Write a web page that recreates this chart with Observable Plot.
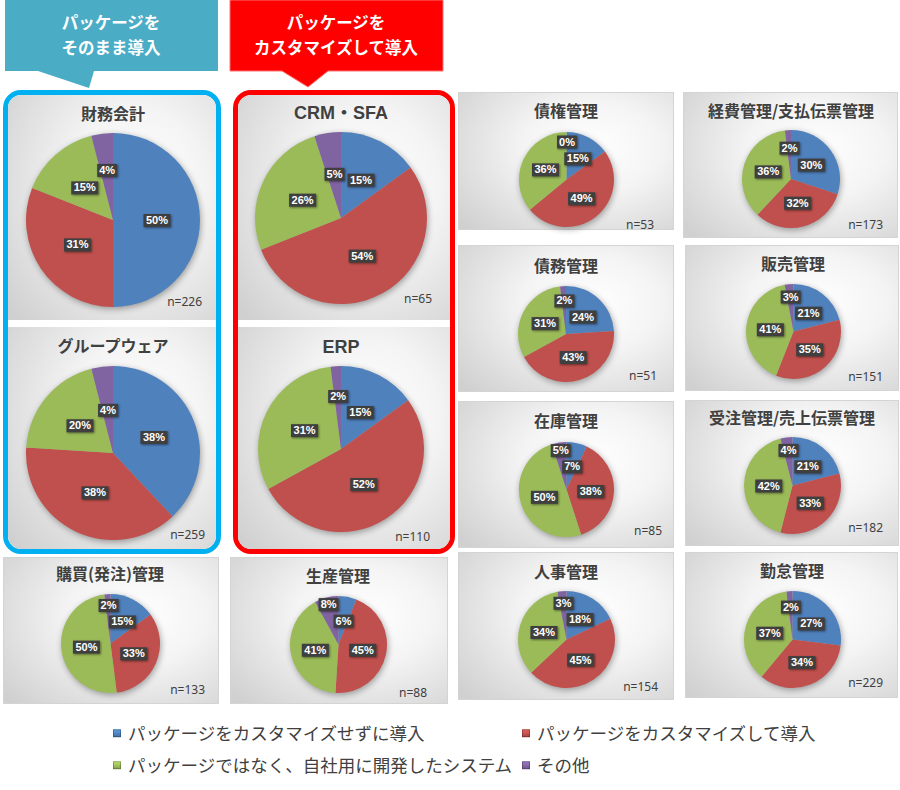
<!DOCTYPE html>
<html><head><meta charset="utf-8">
<script src="https://cdn.jsdelivr.net/npm/d3@7"></script>
<script src="https://cdn.jsdelivr.net/npm/@observablehq/plot@0.6"></script>
<style>
body{margin:0;background:#fff;}
#root{position:relative;width:900px;height:790px;overflow:hidden;font-family:"Noto Sans CJK JP","Noto Sans",sans-serif;}
.panel{position:absolute;box-sizing:border-box;border:1px solid #d4d4d4;background:radial-gradient(ellipse 80% 85% at 62% 40%, #ffffff 0%, #f4f4f4 40%, #d0d0d0 100%);}
.frame{position:absolute;box-sizing:border-box;border:5px solid;border-radius:18px;overflow:hidden;background:#fff;}
.title{position:absolute;transform:translate(-50%,-50%);white-space:nowrap;color:#404040;font-weight:700;font-size:16px;line-height:1;}
.nlab{position:absolute;transform:translate(-100%,-50%);white-space:nowrap;color:#404040;font-size:12px;line-height:1;font-family:"Noto Sans",sans-serif;}
.pie{position:absolute;}
.pie svg g[aria-label="dot"] path{filter:drop-shadow(1px 1px 1px rgba(0,0,0,0.45));}
.callout-text{position:absolute;transform:translate(-50%,-50%);white-space:nowrap;color:#fff;font-weight:700;font-size:16.5px;line-height:1;text-align:center;}
.leg{position:absolute;transform:translateY(-50%);white-space:nowrap;color:#404040;font-size:17.5px;line-height:1;display:flex;align-items:center;}
.leg .sw{width:8px;height:8px;margin-right:7px;box-shadow:inset 0 0 0 1px rgba(0,0,0,0.25);}
</style>
</head><body>
<div id="root"></div>
<script>
// ---- data ----
const categories = ["パッケージをカスタマイズせずに導入","パッケージをカスタマイズして導入","パッケージではなく、自社用に開発したシステム","その他"];
const titles = ["財務会計","グループウェア","CRM・SFA","ERP","債権管理","経費管理/支払伝票管理","債務管理","販売管理","在庫管理","受注管理/売上伝票管理","人事管理","勤怠管理","購買(発注)管理","生産管理"];
const customizeNone = [50,38,15,15,15,30,24,21,7,21,18,27,15,6];
const customized    = [31,38,54,52,49,32,43,35,38,33,45,34,33,45];
const inhouse       = [15,20,26,31,36,36,31,41,50,42,34,37,50,41];
const other         = [4,4,5,2,0,2,2,3,5,4,3,2,2,8];
const sampleSizes   = [226,259,65,110,53,173,51,151,85,182,154,229,133,88];
const calloutLabels = [["パッケージを","そのまま導入"],["パッケージを","カスタマイズして導入"]];

// ---- styles / layout ----
const colors = ["#4f81bd","#c0504d","#9bbb59","#8064a2"];
const layout = [
 {frame:0, panel:[8,95,208,225],  cx:113,cy:220,r:87,  ty:113,nx:202,ny:302},
 {frame:0, panel:[8,327,208,222], cx:113,cy:453,r:87,  ty:345,nx:205,ny:535},
 {frame:1, panel:[238,95,212,225],cx:341,cy:218,r:86,  ty:113,nx:432,ny:299},
 {frame:1, panel:[238,327,212,222],cx:341,cy:449,r:83, ty:347,nx:430,ny:537},
 {panel:[458,92,216,138], cx:566,cy:179,r:47.5,ty:110,nx:654,ny:225},
 {panel:[683,92,215,146], cx:791,cy:179,r:49,  ty:110,nx:883,ny:225},
 {panel:[458,245,216,147],cx:566,cy:334,r:48,  ty:265,nx:657,ny:376},
 {panel:[685,245,214,146],cx:793,cy:331,r:47.5,ty:263,nx:883,ny:377},
 {panel:[458,401,216,147],cx:566,cy:489,r:47.5,ty:420,nx:662,ny:531},
 {panel:[685,400,214,146],cx:792,cy:485,r:48.5,ty:417,nx:883,ny:528},
 {panel:[458,552,216,148],cx:566,cy:639,r:48.5,ty:571,nx:658,ny:687},
 {panel:[685,552,213,146],cx:792,cy:639,r:48.5,ty:570,nx:883,ny:683},
 {panel:[3,557,216,147],  cx:110,cy:643,r:49.5,ty:573,nx:205,ny:690},
 {panel:[230,557,218,147],cx:338,cy:644,r:48.5,ty:575,nx:427,ny:693}
];
const frames = [
 {x:3,y:90,w:218,h:464,color:"#00b0f0"},
 {x:233,y:90,w:222,h:464,color:"#ff0000"}
];

const root = document.getElementById("root");
function el(tag, cls, parent){const e=document.createElement(tag); if(cls) e.className=cls; (parent||root).appendChild(e); return e;}

// callouts
const svgNS="http://www.w3.org/2000/svg";
const cs=document.createElementNS(svgNS,"svg");
cs.setAttribute("width",900);cs.setAttribute("height",95);
cs.style.position="absolute";cs.style.left="0";cs.style.top="0";
cs.innerHTML='<path d="M5,0H218V71H94L89,88L38,71H5Z" fill="#4bacc6"/><path d="M230,0H443V71H328L308,87L282,71H230Z" fill="#ff0000" stroke="#ff7070" stroke-width="1"/>';
root.appendChild(cs);
[111,336].forEach((x,i)=>{
  calloutLabels[i].forEach((line,k)=>{
    const t=el("div","callout-text"); t.style.left=x+"px"; t.style.top=(22+k*24.5)+"px";
    t.textContent=line;
  });
});

// frames
const frameEls = frames.map(f=>{
  const d=el("div","frame"); d.style.left=f.x+"px"; d.style.top=f.y+"px";
  d.style.width=f.w+"px"; d.style.height=f.h+"px"; d.style.borderColor=f.color; return d;
});

// panels
layout.forEach((L,i)=>{
  let parent=root, ox=0, oy=0;
  if(L.frame!==undefined){parent=frameEls[L.frame]; ox=frames[L.frame].x+5; oy=frames[L.frame].y+5;}
  const p=el("div","panel",parent);
  p.style.left=(L.panel[0]-ox)+"px"; p.style.top=(L.panel[1]-oy)+"px";
  p.style.width=L.panel[2]+"px"; p.style.height=L.panel[3]+"px";
  if(L.frame!==undefined) p.style.border="none";
});

const boxSym=(w,h)=>({draw(ctx){ctx.moveTo(-w/2,-h/2);ctx.lineTo(w/2,-h/2);ctx.lineTo(w/2,h/2);ctx.lineTo(-w/2,h/2);ctx.closePath();}});

layout.forEach((L,i)=>{
  const values=[customizeNone[i],customized[i],inhouse[i],other[i]];
  const data=values.map((v,j)=>({cat:categories[j],value:v,label:v+"%"}));
  const arcs=d3.pie().sort(null).value(d=>d.value)(data);
  const boxH=13, placed=[], labels=[];
  arcs.forEach((a,j)=>{
    const ang=(a.startAngle+a.endAngle)/2;
    const w=data[j].label.length>2?27:20;
    let f=0.5,x,y;
    for(;f<0.95;f+=0.02){
      x=f*Math.sin(ang)*L.r; y=f*Math.cos(ang)*L.r;
      if(!placed.some(p=>Math.abs(p.x-x)<(p.w+w)/2+3 && Math.abs(p.y-y)<boxH+3)) break;
    }
    placed.push({x,y,w});
    labels.push({...data[j],x:x/L.r,y:y/L.r,wide:w>20});
  });
  const pad=12, k=(L.r+pad)/L.r, S=2*(L.r+pad);
  const chart=Plot.plot({
    width:S,height:S,margin:0,
    x:{domain:[-k,k],axis:null},y:{domain:[-k,k],axis:null},
    style:{background:"transparent",overflow:"visible"},
    marks:[
      (index,scales)=>{
        const sx=scales.x, sy=scales.y;
        const R=sx(1)-sx(0);
        const g=d3.create("svg:g").attr("transform",`translate(${sx(0)},${sy(0)})`)
          .style("filter","drop-shadow(1px 2px 3px rgba(0,0,0,0.35))");
        const arc=d3.arc().innerRadius(0).outerRadius(R);
        g.selectAll("path").data(arcs).join("path").attr("d",arc).attr("fill",(d,j)=>colors[j]);
        return g.node();
      },
      Plot.dot(labels.filter(d=>d.wide),{x:"x",y:"y",symbol:boxSym(27,13),r:5,fill:"#3f3f3f"}),
      Plot.dot(labels.filter(d=>!d.wide),{x:"x",y:"y",symbol:boxSym(20,13),r:5,fill:"#3f3f3f"}),
      Plot.text(labels,{x:"x",y:"y",text:"label",fill:"white",fontWeight:"bold",fontSize:11,fontFamily:"Liberation Sans, Arial, sans-serif"})
    ]
  });
  const holder=el("div","pie");
  holder.style.left=(L.cx-L.r-pad)+"px"; holder.style.top=(L.cy-L.r-pad)+"px";
  holder.style.width=S+"px"; holder.style.height=S+"px";
  holder.appendChild(chart);
  const t=el("div","title"); t.textContent=titles[i]; t.style.left=L.cx+"px"; t.style.top=L.ty+"px";
  if(/^[A-Z]/.test(titles[i])){t.style.fontFamily='"Liberation Sans","Noto Sans CJK JP",sans-serif';t.style.fontSize="18px";}
  const n=el("div","nlab"); n.textContent="n="+sampleSizes[i]; n.style.left=L.nx+"px"; n.style.top=L.ny+"px";
});

// legend
const legPos=[[113,733],[522,733],[113,765],[522,765]];
categories.forEach((c,j)=>{
  const d=el("div","leg"); d.style.left=legPos[j][0]+"px"; d.style.top=legPos[j][1]+"px";
  const s=document.createElement("span"); s.className="sw";
  s.style.background=`linear-gradient(${d3.color(colors[j]).brighter(0.6)}, ${colors[j]} 60%, ${d3.color(colors[j]).darker(0.5)})`;
  d.appendChild(s);
  const tx=document.createElement("span"); tx.textContent=c; d.appendChild(tx);
});
</script>
</body></html>
